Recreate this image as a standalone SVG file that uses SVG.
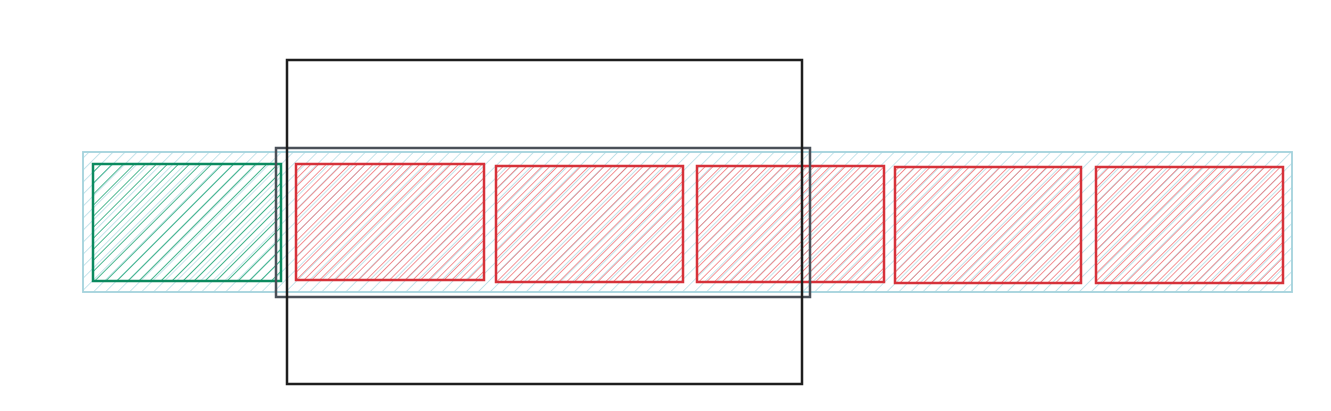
<svg xmlns="http://www.w3.org/2000/svg" width="1331" height="411" viewBox="0 0 1331 411">
<defs>
<pattern id="hb" patternUnits="userSpaceOnUse" width="8.5" height="8.5" patternTransform="rotate(45)">
<line x1="0" y1="0" x2="0" y2="8.5" stroke="#a6d6e0" stroke-width="1.3"/>
</pattern>
<pattern id="hg" patternUnits="userSpaceOnUse" width="7.8" height="7.8" patternTransform="rotate(45)">
<line x1="0" y1="0" x2="0" y2="7.8" stroke="#1aa574" stroke-width="1.6"/>
</pattern>
<pattern id="hr" patternUnits="userSpaceOnUse" width="5.5" height="5.5" patternTransform="rotate(45)">
<line x1="0" y1="0" x2="0" y2="5.5" stroke="#ee5a5f" stroke-width="1.3"/>
</pattern>
</defs>
<style>
.bar{fill:url(#hb);stroke:#a3d2dc;stroke-width:1.8}
.green{fill:url(#hg);stroke:#0b8a5f;stroke-width:2.5}
.red{fill:url(#hr);stroke:#d6323a;stroke-width:2.5}
.gray{fill:none;stroke:#4a5058;stroke-width:2.5}
.black{fill:none;stroke:#1e1e1e;stroke-width:2.5}
</style>
<rect width="1331" height="411" fill="#ffffff"/>
<g id="bar"><rect class="bar" x="83" y="152" width="1209" height="140"/></g>
<g id="green1"><rect class="green" x="93" y="164" width="188" height="117"/></g>
<g id="red1"><rect class="red" x="296" y="164" width="188" height="116"/></g>
<g id="red2"><rect class="red" x="496" y="166" width="187" height="116"/></g>
<g id="red3"><rect class="red" x="697" y="166" width="187" height="116"/></g>
<g id="red4"><rect class="red" x="895" y="167" width="186" height="116"/></g>
<g id="red5"><rect class="red" x="1096" y="167" width="187" height="116"/></g>
<g id="window"><rect class="gray" x="276" y="148" width="534" height="149"/></g>
<g id="frame"><rect class="black" x="287" y="60" width="515" height="324"/></g>
<g id="connectors"></g>
</svg>
